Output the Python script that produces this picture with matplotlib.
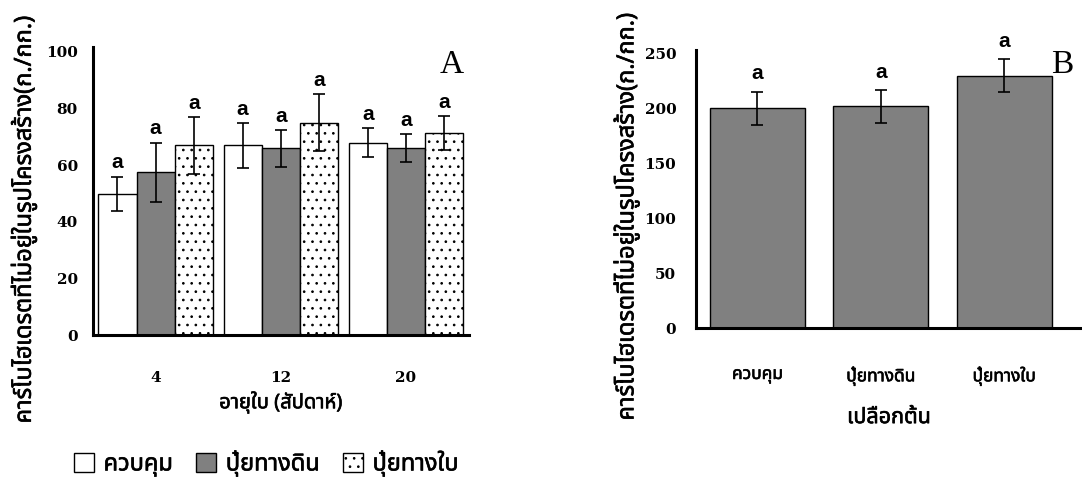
import numpy as np
import matplotlib
matplotlib.use("Agg")
import matplotlib.pyplot as plt
import matplotlib.patheffects as pe
from matplotlib.patches import Patch
from matplotlib import font_manager as fm
from matplotlib.ft2font import FT2Font


def find_thai_fonts():
    # look for any installed family that covers the Thai block
    for p in fm.findSystemFonts():
        try:
            fm.fontManager.addfont(p)
        except Exception:
            pass
    names = []
    for f in fm.fontManager.ttflist:
        try:
            cm = FT2Font(f.fname).get_charmap()
        except Exception:
            continue
        if 0x0E01 in cm and 0x0E49 in cm and f.name not in names:
            names.append(f.name)
    pref = ["Noto Sans Thai", "Noto Sans Thai UI", "Loma", "Garuda", "Sarabun",
            "TH Sarabun New", "Tahoma", "Leelawadee UI", "Kinnari", "Norasi"]
    ordered = [n for n in pref if n in names] + [n for n in names if n not in pref]
    return ordered


thai = find_thai_fonts()
thai_font = thai + ['DejaVu Sans', 'Noto Sans']
plt.rcParams['font.family'] = thai_font
plt.rcParams['hatch.linewidth'] = 0.7
plt.rcParams['hatch.color'] = '#444444'
bold_fx = [pe.withStroke(linewidth=0.45, foreground='black')]

# ---- data, panel A (leaf age) ----
ages = ["4", "12", "20"]
treatments = ["ควบคุม", "ปุ๋ยทางดิน", "ปุ๋ยทางใบ"]
control_mean = [50, 67, 68]
control_err = [6, 8, 5]
soil_mean = [57.5, 66, 66]
soil_err = [10.5, 6.5, 5]
leaf_mean = [67, 75, 71.5]
leaf_err = [10, 10, 6]
letters_a = [["a", "a", "a"], ["a", "a", "a"], ["a", "a", "a"]]

# ---- data, panel B (bark) ----
bark_cats = ["ควบคุม", "ปุ๋ยทางดิน", "ปุ๋ยทางใบ"]
bark_mean = [200, 201.5, 229.5]
bark_err = [15, 15, 15]
letters_b = ["a", "a", "a"]

ylabel = "คาร์โบไฮเดรตที่ไม่อยู่ในรูปโครงสร้าง(ก./กก.)"
num_font = 'DejaVu Serif'

fig = plt.figure(figsize=(10.82, 4.83), dpi=100, facecolor='white')


def style_axes(ax):
    for s in ['top', 'right']:
        ax.spines[s].set_visible(False)
    for s in ['left', 'bottom']:
        ax.spines[s].set_linewidth(2.2)
    ax.tick_params(length=0)


# ---------------- panel A ----------------
axA = fig.add_axes([0.086, 0.306, 0.347, 0.597])
x = np.arange(len(ages))
w = 0.305
styles = [dict(color='white', hatch=None),
          dict(color='#808080', hatch=None),
          dict(color='white', hatch='..')]
means = [control_mean, soil_mean, leaf_mean]
errs = [control_err, soil_err, leaf_err]
for i in range(3):
    xi = x + (i - 1) * w
    axA.bar(xi, means[i], w, color=styles[i]['color'], hatch=styles[i]['hatch'],
            edgecolor='black', linewidth=1.0, zorder=2)
    axA.errorbar(xi, means[i], yerr=errs[i], fmt='none', ecolor='black',
                 elinewidth=1.2, capsize=4, capthick=1.2, zorder=3)
    for j in range(len(ages)):
        axA.annotate(letters_a[j][i], (xi[j], means[i][j] + errs[i][j]),
                     xytext=(0, 3), textcoords='offset points', ha='center', va='bottom',
                     fontsize=15, fontweight='bold', family='Liberation Sans')
axA.set_xlim(-0.5, 2.5)
axA.set_ylim(0, 101.8)
axA.set_yticks(np.arange(0, 101, 20))
axA.set_xticks(x)
axA.set_xticklabels(ages)
style_axes(axA)
axA.tick_params(axis='y', pad=11)
axA.tick_params(axis='x', pad=26)
for t in axA.get_xticklabels() + axA.get_yticklabels():
    t.set_family(num_font)
    t.set_fontweight('bold')
    t.set_fontsize(11)
axA.set_xlabel("อายุใบ (สัปดาห์)", fontsize=14.5, family=thai_font, labelpad=5,
               path_effects=bold_fx)
axA.set_ylabel(ylabel, fontsize=17, family=thai_font, path_effects=bold_fx)
axA.yaxis.set_label_coords(-0.149, 0.40)
axA.text(0.955, 0.99, "A", transform=axA.transAxes, ha='center', va='top',
         fontsize=24, family='Liberation Serif')

handles = [Patch(facecolor='white', edgecolor='black', label=treatments[0]),
           Patch(facecolor='#808080', edgecolor='black', label=treatments[1]),
           Patch(facecolor='white', edgecolor='black', hatch='..', label=treatments[2])]
leg = fig.legend(handles=handles, loc='center', bbox_to_anchor=(0.246, 0.04), ncol=3,
                 frameon=False, handlelength=0.85, handleheight=0.85, handletextpad=0.4,
                 columnspacing=1.0, prop=dict(family=thai_font, size=17))
for t in leg.get_texts():
    t.set_path_effects(bold_fx)

# ---------------- panel B ----------------
axB = fig.add_axes([0.643, 0.32, 0.357, 0.577])
xb = np.arange(len(bark_cats))
axB.bar(xb, bark_mean, 0.77, color='#808080', edgecolor='black', linewidth=1.0, zorder=2)
axB.errorbar(xb, bark_mean, yerr=bark_err, fmt='none', ecolor='black',
             elinewidth=1.2, capsize=4, capthick=1.2, zorder=3)
for j in range(len(bark_cats)):
    axB.annotate(letters_b[j], (xb[j], bark_mean[j] + bark_err[j]),
                 xytext=(0, 6), textcoords='offset points', ha='center', va='bottom',
                 fontsize=15, fontweight='bold', family='Liberation Sans')
axB.set_xlim(-0.5, 2.63)
axB.set_ylim(0, 253)
axB.set_yticks(np.arange(0, 251, 50))
axB.set_xticks(xb)
axB.set_xticklabels(bark_cats)
style_axes(axB)
axB.tick_params(axis='y', pad=14)
axB.tick_params(axis='x', pad=27)
for t in axB.get_yticklabels():
    t.set_family(num_font)
    t.set_fontweight('bold')
    t.set_fontsize(11)
for t in axB.get_xticklabels():
    t.set_family(thai_font)
    t.set_fontsize(12.5)
    t.set_path_effects(bold_fx)
axB.set_xlabel("เปลือกต้น", fontsize=15.5, family=thai_font, labelpad=15,
               path_effects=bold_fx)
axB.set_ylabel(ylabel, fontsize=17, family=thai_font, path_effects=bold_fx)
axB.yaxis.set_label_coords(-0.145, 0.40)
axB.text(0.95, 1.0, "B", transform=axB.transAxes, ha='center', va='top',
         fontsize=24, family='Liberation Serif')

fig.savefig("out.png", dpi=100, facecolor='white')
